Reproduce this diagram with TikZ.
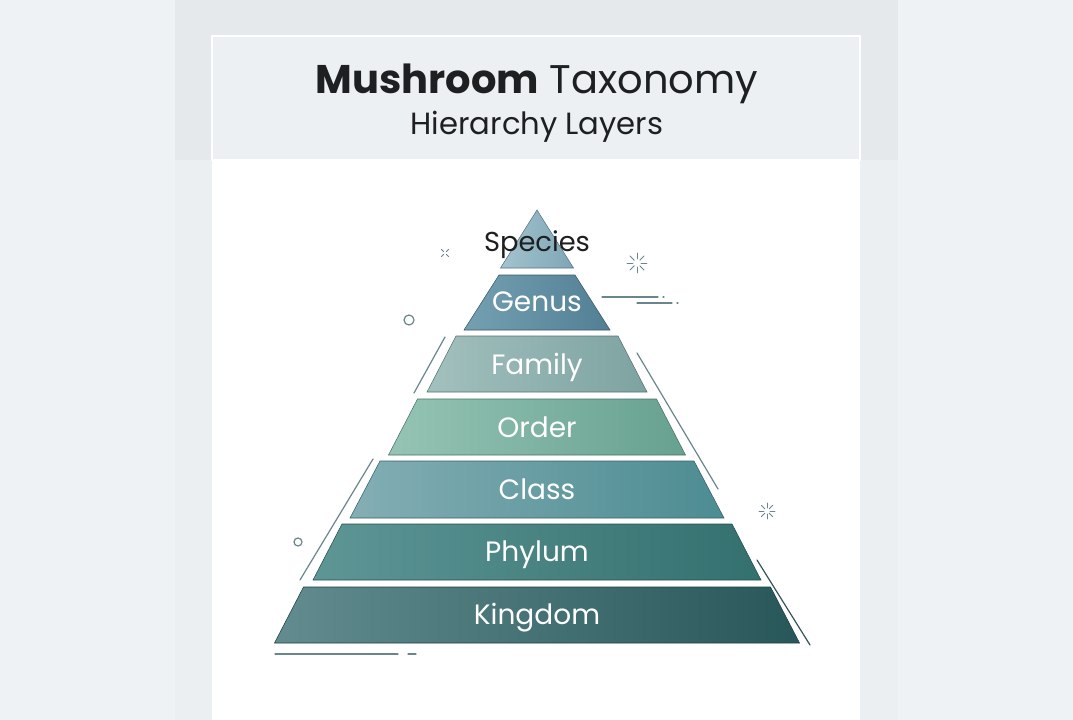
\documentclass[tikz,border=0pt]{standalone}
\usepackage{fontspec}
\setmainfont{Poppins}
\usetikzlibrary{positioning}

\definecolor{sidebg}{HTML}{EFF2F4}
\definecolor{bandbg}{HTML}{E6E9EC}
\definecolor{midbg}{HTML}{ECEFF1}
\definecolor{headbg}{HTML}{EDF0F2}
\definecolor{titletext}{HTML}{1E1F21}
\definecolor{decoline}{HTML}{6A868C}
\definecolor{decodark}{HTML}{35535A}
\definecolor{speciesL}{HTML}{A3C3CE}
\definecolor{speciesR}{HTML}{7FA6B6}
\definecolor{genusL}{HTML}{74A0B2}
\definecolor{genusR}{HTML}{537F95}
\definecolor{familyL}{HTML}{A2C0BE}
\definecolor{familyR}{HTML}{7DA3A1}
\definecolor{orderL}{HTML}{95C4B4}
\definecolor{orderR}{HTML}{67A190}
\definecolor{classL}{HTML}{83AEB4}
\definecolor{classR}{HTML}{4C8C92}
\definecolor{phylumL}{HTML}{5E9696}
\definecolor{phylumR}{HTML}{33706E}
\definecolor{kingdomL}{HTML}{628C8F}
\definecolor{kingdomR}{HTML}{285759}

\begin{document}
\begin{tikzpicture}[x=0.75pt, y=-0.75pt,
  deco/.style={draw=decoline, line width=0.9pt, line cap=round},
  layer/.style={draw=#1R!70!black, line width=0.4pt, left color=#1L, right color=#1R},
  layer label/.style={text=white, font=\fontsize{21}{25}\selectfont, anchor=base},
  heading/.style={text=titletext, font=\fontsize{30}{36}\selectfont, anchor=base},
  subheading/.style={text=titletext, font=\fontsize{23}{27}\selectfont, anchor=base}]

\useasboundingbox (0,0) rectangle (1073,720);
\fill[sidebg] (0,0) rectangle (1073,720);
\fill[bandbg] (175,0) rectangle (898,160);
\fill[midbg] (175,160) rectangle (898,720);
\fill[white] (212,160) rectangle (860,720);
\filldraw[fill=headbg, draw=white, line width=0.8pt] (212,36) rectangle (860,160);

\node[heading] (title) at (537,94) {\textbf{Mushroom} Taxonomy};
\node[subheading] (subtitle) at (537,135) {Hierarchy Layers};

\shade[layer=species] (537,210) -- (573.5,268) -- (500.5,268) -- cycle;
\shade[layer=genus] (499,275) -- (575,275) -- (610,330) -- (464,330) -- cycle;
\shade[layer=family] (456,336) -- (618,336) -- (647,392) -- (427,392) -- cycle;
\shade[layer=order] (417.5,399) -- (656.5,399) -- (685.5,455) -- (388.5,455) -- cycle;
\shade[layer=class] (380,461) -- (694,461) -- (724,518) -- (350,518) -- cycle;
\shade[layer=phylum] (342,524) -- (732,524) -- (761,580) -- (313,580) -- cycle;
\shade[layer=kingdom] (303.5,587) -- (770.5,587) -- (799.5,643) -- (274.5,643) -- cycle;

\node[layer label, text=titletext, font=\fontsize{20.5}{24}\selectfont] (species) at (537,251) {Species};
\node[layer label] (genus) at (537,311) {Genus};
\node[layer label] (family) at (537,374) {Family};
\node[layer label] (order) at (537,437) {Order};
\node[layer label] (class) at (537,499) {Class};
\node[layer label] (phylum) at (537,561) {Phylum};
\node[layer label] (kingdom) at (537,624) {Kingdom};

\draw[deco] (414,393) -- (445,337);
\draw[deco] (637,353) -- (718,489);
\draw[deco] (373,459) -- (300,580);
\draw[deco, draw=decodark] (757,560) -- (810,645);
\draw[deco] (602,297) -- (658,297) (663,297) -- (664,297);
\draw[deco] (637,303) -- (672,303) (677,303) -- (678,303);
\draw[deco] (275,654) -- (398,654) (408,654) -- (416,654);
\draw[deco] (409,320) circle[radius=5];
\draw[deco] (298,542) circle[radius=4];
\foreach \a in {45,135,225,315}
  \draw[deco, line width=0.7pt, shift={(445,253)}] (\a:2) -- (\a:5);
\foreach \a in {0,45,...,315}
  \draw[deco, line width=0.7pt, shift={(637,263)}] (\a:4) -- (\a:10);
\foreach \a in {0,45,...,315}
  \draw[deco, line width=0.7pt, shift={(767,511)}] (\a:3) -- (\a:8);

\end{tikzpicture}
\end{document}
